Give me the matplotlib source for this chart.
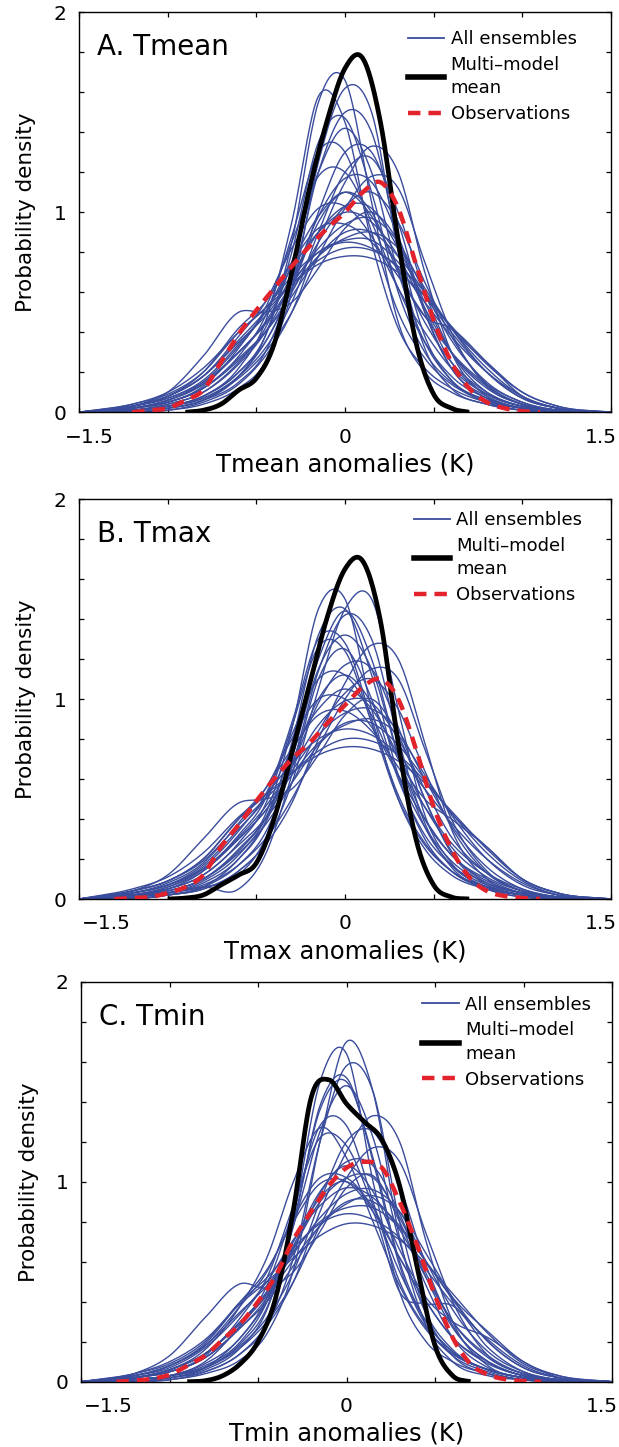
"""Probability density of temperature anomalies: ensembles vs multi-model mean vs observations."""
import matplotlib
matplotlib.use("Agg")
import matplotlib.pyplot as plt
from matplotlib.lines import Line2D
import numpy as np

PANEL_TITLES=["A. Tmean","B. Tmax","C. Tmin"]
X_LABELS=["Tmean anomalies (K)","Tmax anomalies (K)","Tmin anomalies (K)"]
X_TICKS=[-1.5,-1.0,-0.5,0.0,0.5,1.0,1.5]
X_TICK_LABELS={-1.5:"\u22121.5",0.0:"0",1.5:"1.5"}
Y_TICKS=[0.0,0.2,0.4,0.6,0.8,1.0,1.2,1.4,1.6,1.8,2.0]
Y_TICK_LABELS=["0","","","","","1","","","","","2"]

ENS_X=[-1.5,-1.2,-1.0,-0.8,-0.6,-0.45,-0.3,-0.15,0.0,0.15,0.3,0.45,0.6,0.8,1.0,1.2,1.5]

ENS_TMEAN=[
    [0.01,0.03,0.08,0.22,0.45,0.95,1.58,1.45,0.85,0.42,0.22,0.12,0.05,0.02,0.0],
    [0.0,0.02,0.06,0.18,0.38,0.85,1.55,1.66,1.05,0.45,0.2,0.1,0.04,0.01,0.0],
    [0.0,0.01,0.04,0.12,0.25,0.6,1.25,1.62,1.5,0.8,0.32,0.12,0.04,0.01,0.0],
    [0.0,0.02,0.06,0.15,0.3,0.65,1.2,1.5,1.4,0.85,0.38,0.16,0.05,0.01,0.0],
    [0.01,0.03,0.08,0.2,0.38,0.8,1.35,1.47,1.1,0.6,0.3,0.15,0.06,0.02,0.0],
    [0.01,0.04,0.1,0.25,0.42,0.75,1.2,1.42,1.2,0.7,0.35,0.16,0.06,0.02,0.0],
    [0.0,0.01,0.05,0.14,0.28,0.5,0.85,1.15,1.33,1.2,0.7,0.3,0.08,0.02,0.0],
    [0.01,0.03,0.08,0.2,0.35,0.62,1.0,1.3,1.3,0.95,0.5,0.22,0.08,0.02,0.0],
    [0.01,0.03,0.07,0.18,0.32,0.55,0.9,1.2,1.27,1.0,0.6,0.3,0.1,0.03,0.01],
    [0.02,0.05,0.13,0.32,0.52,0.85,1.18,1.2,0.95,0.62,0.35,0.18,0.07,0.02,0.0],
    [0.01,0.04,0.1,0.24,0.4,0.65,0.98,1.17,1.15,0.88,0.52,0.25,0.09,0.03,0.01],
    [0.02,0.05,0.12,0.26,0.4,0.6,0.85,1.03,1.1,0.95,0.65,0.38,0.14,0.04,0.01],
    [0.02,0.06,0.15,0.33,0.5,0.75,0.98,1.1,0.98,0.72,0.45,0.25,0.1,0.03,0.01],
    [0.02,0.06,0.14,0.3,0.45,0.68,0.9,1.03,1.02,0.82,0.55,0.3,0.12,0.04,0.01],
    [0.03,0.07,0.16,0.34,0.5,0.72,0.9,1.0,0.95,0.78,0.52,0.3,0.13,0.04,0.01],
    [0.03,0.08,0.2,0.42,0.55,0.75,0.92,0.94,0.85,0.68,0.48,0.3,0.14,0.05,0.01],
    [0.03,0.07,0.15,0.3,0.44,0.62,0.78,0.87,0.9,0.82,0.62,0.42,0.2,0.07,0.02],
    [0.03,0.08,0.18,0.35,0.48,0.65,0.8,0.86,0.86,0.75,0.58,0.4,0.2,0.07,0.02],
    [0.04,0.09,0.2,0.4,0.52,0.68,0.8,0.85,0.82,0.72,0.55,0.38,0.2,0.08,0.02],
    [0.03,0.08,0.18,0.36,0.5,0.64,0.76,0.82,0.81,0.73,0.6,0.42,0.22,0.08,0.02],
    [0.04,0.1,0.22,0.4,0.52,0.64,0.74,0.78,0.77,0.7,0.58,0.43,0.24,0.1,0.03],
    [0.03,0.1,0.28,0.5,0.5,0.55,0.72,0.92,1.0,0.85,0.5,0.22,0.07,0.02,0.0],
    [0.0,0.02,0.06,0.18,0.35,0.62,0.95,1.1,1.0,0.7,0.48,0.42,0.25,0.08,0.02],
    [0.02,0.05,0.12,0.28,0.48,0.88,1.3,1.3,0.9,0.5,0.27,0.14,0.06,0.02,0.0],
    [0.01,0.03,0.07,0.17,0.3,0.5,0.78,1.02,1.18,1.12,0.75,0.4,0.13,0.04,0.01],
    [0.02,0.06,0.14,0.3,0.44,0.64,0.82,0.94,0.97,0.85,0.6,0.36,0.15,0.05,0.01],
    [0.03,0.08,0.18,0.38,0.55,0.82,1.02,1.03,0.88,0.62,0.4,0.22,0.09,0.03,0.01],
    [0.02,0.05,0.12,0.27,0.4,0.58,0.78,0.9,0.9,0.78,0.6,0.42,0.25,0.1,0.03],
]
ENS_TMAX=[
    [0.02,0.04,0.1,0.25,0.42,0.85,1.45,1.5,0.95,0.5,0.25,0.12,0.05,0.02,0.0],
    [0.0,0.02,0.05,0.14,0.28,0.58,1.05,1.45,1.5,0.95,0.42,0.18,0.06,0.02,0.0],
    [0.01,0.03,0.08,0.2,0.38,0.78,1.32,1.45,1.12,0.62,0.3,0.14,0.05,0.01,0.0],
    [0.01,0.03,0.09,0.22,0.4,0.75,1.2,1.44,1.2,0.72,0.36,0.17,0.06,0.02,0.0],
    [0.0,0.02,0.06,0.17,0.33,0.66,1.14,1.42,1.3,0.8,0.38,0.16,0.05,0.01,0.0],
    [0.02,0.05,0.14,0.32,0.5,0.88,1.3,1.28,0.9,0.52,0.28,0.14,0.06,0.02,0.0],
    [0.0,0.02,0.05,0.14,0.27,0.48,0.8,1.08,1.27,1.2,0.78,0.35,0.1,0.03,0.01],
    [0.01,0.04,0.1,0.24,0.4,0.66,0.98,1.17,1.15,0.86,0.5,0.24,0.08,0.03,0.01],
    [0.03,0.07,0.16,0.34,0.52,0.82,1.1,1.12,0.92,0.62,0.36,0.19,0.08,0.03,0.01],
    [0.01,0.04,0.1,0.23,0.37,0.58,0.84,1.03,1.1,0.95,0.64,0.36,0.13,0.04,0.01],
    [0.03,0.07,0.17,0.35,0.5,0.74,0.95,1.05,0.95,0.72,0.46,0.26,0.11,0.04,0.01],
    [0.02,0.06,0.15,0.31,0.46,0.66,0.87,0.99,0.98,0.8,0.55,0.31,0.13,0.04,0.01],
    [0.04,0.09,0.2,0.4,0.55,0.75,0.92,0.94,0.84,0.66,0.46,0.28,0.13,0.05,0.01],
    [0.03,0.07,0.15,0.3,0.44,0.62,0.78,0.87,0.9,0.82,0.62,0.42,0.2,0.07,0.02],
    [0.04,0.09,0.2,0.4,0.52,0.68,0.8,0.85,0.82,0.72,0.55,0.38,0.2,0.08,0.02],
    [0.04,0.09,0.19,0.37,0.5,0.63,0.74,0.8,0.79,0.72,0.59,0.43,0.23,0.09,0.02],
    [0.05,0.11,0.23,0.41,0.52,0.63,0.72,0.76,0.75,0.69,0.58,0.44,0.25,0.1,0.03],
    [0.04,0.12,0.3,0.48,0.5,0.55,0.72,0.92,1.0,0.82,0.5,0.23,0.07,0.02,0.0],
    [0.01,0.03,0.06,0.12,0.3,0.7,1.15,1.32,1.15,0.72,0.4,0.22,0.1,0.03,0.01],
    [0.0,0.02,0.06,0.2,0.38,0.68,1.0,1.12,0.98,0.7,0.5,0.4,0.26,0.1,0.03],
    [0.02,0.03,0.06,0.05,0.22,0.62,1.1,1.25,1.0,0.6,0.32,0.17,0.07,0.02,0.0],
    [0.02,0.05,0.12,0.28,0.47,0.86,1.26,1.24,0.88,0.5,0.27,0.14,0.06,0.02,0.0],
    [0.01,0.03,0.07,0.17,0.3,0.5,0.76,1.0,1.15,1.1,0.75,0.4,0.14,0.04,0.01],
    [0.02,0.06,0.14,0.3,0.44,0.64,0.82,0.93,0.95,0.84,0.6,0.37,0.16,0.05,0.01],
    [0.03,0.08,0.18,0.38,0.55,0.8,1.0,1.0,0.86,0.62,0.4,0.22,0.09,0.03,0.01],
    [0.02,0.05,0.12,0.27,0.4,0.58,0.77,0.88,0.88,0.77,0.6,0.43,0.26,0.1,0.03],
]
ENS_TMIN=[
    [0.0,0.01,0.04,0.11,0.24,0.56,1.2,1.7,1.45,0.72,0.28,0.1,0.03,0.01,0.0],
    [0.0,0.02,0.06,0.17,0.36,0.82,1.5,1.64,1.0,0.45,0.2,0.1,0.04,0.01,0.0],
    [0.0,0.02,0.05,0.14,0.28,0.62,1.2,1.58,1.45,0.8,0.34,0.13,0.04,0.01,0.0],
    [0.01,0.03,0.07,0.19,0.37,0.78,1.38,1.52,1.1,0.58,0.28,0.13,0.05,0.01,0.0],
    [0.01,0.03,0.08,0.2,0.4,0.8,1.36,1.5,1.12,0.6,0.3,0.15,0.06,0.02,0.0],
    [0.01,0.03,0.09,0.22,0.42,0.78,1.25,1.48,1.22,0.7,0.34,0.16,0.06,0.02,0.0],
    [0.0,0.01,0.05,0.14,0.28,0.5,0.85,1.15,1.33,1.2,0.7,0.3,0.08,0.02,0.0],
    [0.01,0.03,0.07,0.18,0.32,0.55,0.9,1.2,1.25,0.98,0.58,0.28,0.1,0.03,0.01],
    [0.02,0.06,0.16,0.38,0.62,1.0,1.27,1.12,0.8,0.48,0.26,0.14,0.06,0.02,0.0],
    [0.02,0.05,0.13,0.32,0.52,0.88,1.22,1.18,0.88,0.55,0.3,0.15,0.06,0.02,0.0],
    [0.02,0.05,0.12,0.27,0.42,0.66,0.94,1.1,1.08,0.84,0.52,0.27,0.1,0.03,0.01],
    [0.03,0.08,0.19,0.4,0.56,0.8,0.99,1.0,0.85,0.62,0.4,0.22,0.1,0.03,0.01],
    [0.02,0.06,0.14,0.3,0.45,0.67,0.9,1.02,1.02,0.82,0.54,0.3,0.12,0.04,0.01],
    [0.03,0.07,0.17,0.34,0.5,0.71,0.88,0.97,0.92,0.76,0.52,0.3,0.13,0.04,0.01],
    [0.02,0.06,0.14,0.29,0.43,0.61,0.78,0.89,0.93,0.85,0.64,0.42,0.2,0.07,0.02],
    [0.03,0.08,0.18,0.35,0.48,0.65,0.8,0.87,0.87,0.77,0.6,0.41,0.2,0.07,0.02],
    [0.04,0.09,0.2,0.4,0.52,0.67,0.79,0.84,0.81,0.72,0.56,0.39,0.21,0.08,0.02],
    [0.04,0.1,0.21,0.39,0.5,0.62,0.73,0.79,0.78,0.71,0.59,0.44,0.24,0.09,0.03],
    [0.04,0.13,0.32,0.49,0.47,0.55,0.75,0.97,1.03,0.8,0.48,0.22,0.07,0.02,0.0],
    [0.0,0.02,0.07,0.22,0.4,0.68,0.92,1.0,0.85,0.45,0.39,0.38,0.17,0.05,0.01],
    [0.01,0.03,0.1,0.28,0.45,0.7,0.95,1.08,0.95,0.66,0.42,0.3,0.22,0.1,0.02],
    [0.02,0.05,0.12,0.28,0.48,0.86,1.28,1.28,0.9,0.5,0.27,0.14,0.06,0.02,0.0],
    [0.01,0.03,0.07,0.17,0.3,0.5,0.78,1.02,1.17,1.1,0.74,0.4,0.13,0.04,0.01],
    [0.02,0.06,0.14,0.3,0.44,0.64,0.82,0.94,0.96,0.85,0.6,0.36,0.15,0.05,0.01],
    [0.03,0.08,0.18,0.38,0.55,0.82,1.02,1.02,0.87,0.62,0.4,0.22,0.09,0.03,0.01],
    [0.02,0.05,0.12,0.27,0.4,0.58,0.78,0.9,0.9,0.78,0.6,0.42,0.25,0.1,0.03],
]

# multi-model mean and observations, read every 0.1 K
MEAN_X_TMEAN=[-0.9,-0.8,-0.7,-0.6,-0.5,-0.4,-0.3,-0.2,-0.1,0.0,0.1,0.2,0.3,0.4,0.5,0.6,0.7]
MEAN_TMEAN=[0.0,0.01,0.04,0.11,0.17,0.34,0.7,1.12,1.46,1.72,1.77,1.45,0.86,0.35,0.09,0.02,0.0]
MEAN_X_TMAX=[-1.0,-0.9,-0.8,-0.7,-0.6,-0.5,-0.4,-0.3,-0.2,-0.1,0.0,0.1,0.2,0.3,0.4,0.5,0.6,0.7]
MEAN_TMAX=[0.0,0.005,0.02,0.07,0.12,0.18,0.4,0.73,1.07,1.41,1.65,1.69,1.39,0.78,0.3,0.07,0.01,0.0]
MEAN_X_TMIN=[-0.9,-0.8,-0.7,-0.6,-0.5,-0.4,-0.3,-0.2,-0.1,0.0,0.1,0.2,0.3,0.4,0.5,0.6,0.7]
MEAN_TMIN=[0.0,0.005,0.03,0.09,0.2,0.42,0.86,1.42,1.51,1.39,1.3,1.21,0.98,0.57,0.18,0.03,0.0]

OBS_X_TMEAN=[-1.2,-1.1,-1.0,-0.9,-0.8,-0.7,-0.6,-0.5,-0.4,-0.3,-0.2,-0.1,0.0,0.1,0.2,0.3,0.4,0.5,0.6,0.7,0.8,0.9,1.0,1.1]
OBS_TMEAN=[0.0,0.01,0.02,0.06,0.11,0.25,0.39,0.51,0.62,0.73,0.83,0.92,1.0,1.1,1.15,1.02,0.74,0.46,0.25,0.12,0.05,0.02,0.005,0.0]
OBS_X_TMAX=[-1.3,-1.2,-1.1,-1.0,-0.9,-0.8,-0.7,-0.6,-0.5,-0.4,-0.3,-0.2,-0.1,0.0,0.1,0.2,0.3,0.4,0.5,0.6,0.7,0.8,0.9,1.0,1.1]
OBS_TMAX=[0.0,0.005,0.01,0.03,0.06,0.12,0.26,0.37,0.49,0.6,0.7,0.78,0.88,0.97,1.06,1.1,1.0,0.75,0.46,0.25,0.11,0.04,0.015,0.005,0.0]
OBS_X_TMIN=[-1.3,-1.2,-1.1,-1.0,-0.9,-0.8,-0.7,-0.6,-0.5,-0.4,-0.3,-0.2,-0.1,0.0,0.1,0.2,0.3,0.4,0.5,0.6,0.7,0.8,0.9,1.0,1.1]
OBS_TMIN=[0.0,0.005,0.015,0.035,0.08,0.13,0.21,0.29,0.4,0.53,0.71,0.85,0.98,1.07,1.1,1.07,0.9,0.68,0.43,0.22,0.09,0.035,0.012,0.003,0.0]

BLUE="#3a4c9c"
RED="#e3232c"


def smooth(xk,yk,n=400):
    """Cubic Hermite curve through the read-off knots (drawing only)."""
    xk=np.asarray(xk,dtype=float); yk=np.asarray(yk,dtype=float)
    m=np.gradient(yk,xk)
    xs=np.linspace(xk[0],xk[-1],n)
    i=np.clip(np.searchsorted(xk,xs)-1,0,len(xk)-2)
    h=xk[i+1]-xk[i]; t=(xs-xk[i])/h
    ys=((2*t**3-3*t**2+1)*yk[i]+(t**3-2*t**2+t)*h*m[i]
        +(-2*t**3+3*t**2)*yk[i+1]+(t**3-t**2)*h*m[i+1])
    return xs,np.clip(ys,0,None)


def draw_panel(ax,title,xlabel,ensembles,mean_x,mean,obs_x,obs,legend_xy,edge_shift):
    for row in ensembles:
        ax.plot(*smooth(ENS_X,[0.0,*row,0.0]),color=BLUE,lw=1.0,zorder=2)
    ax.plot(*smooth(mean_x,mean),color="black",lw=3.4,zorder=3,solid_capstyle="butt")
    ax.plot(*smooth(obs_x,obs),color=RED,lw=3.2,dashes=(2.8,1.8),zorder=4)
    ax.set_xlim(-1.5,1.5); ax.set_ylim(0,2)
    ax.set_xticks(X_TICKS); ax.set_xticklabels([""]*len(X_TICKS))
    ax.set_yticks(Y_TICKS); ax.set_yticklabels(Y_TICK_LABELS)
    ax.tick_params(direction="in",top=True,right=True,length=3.6,width=0.9,labelsize=14.5)
    ax.tick_params(axis="y",pad=9)
    # the outer x tick labels sit inside the tick span in the original
    for value,label in X_TICK_LABELS.items():
        dx=edge_shift if value<0 else (-7.2 if value>0 else 0)
        ax.annotate(label,xy=(value,0),xycoords=("data","axes fraction"),xytext=(dx,-11),
                    textcoords="offset points",ha="center",va="top",fontsize=14.5)
    for spine in ax.spines.values(): spine.set_linewidth(1.0)
    ax.set_xlabel(xlabel,fontsize=17.5)
    ax.xaxis.set_label_coords(0.5,-0.1)
    ax.set_ylabel("Probability density",fontsize=15.5)
    ax.yaxis.set_label_coords(-0.08,0.5)
    ax.text(0.034,0.8925,title,transform=ax.transAxes,fontsize=20,va="baseline",ha="left")
    handles=[
        Line2D([],[],color=BLUE,lw=1.3),
        Line2D([],[],color="black",lw=4.0),
        Line2D([],[],color=RED,lw=3.2,dashes=(2.8,1.8)),
    ]
    labels=["All ensembles","Multi\u2013model\nmean","Observations"]
    leg=ax.legend(handles,labels,loc="upper left",bbox_to_anchor=legend_xy,frameon=False,
                  fontsize=13,handlelength=2.0,handletextpad=0.37,labelspacing=0.42,borderpad=0,
                  borderaxespad=0)
    for text in leg.get_texts(): text.set_linespacing(1.4)


def main():
    fig=plt.figure(figsize=(6.19,14.47),dpi=100)
    boxes=[(0.1276,0.7151,0.8595,0.2764),(0.1276,0.3787,0.8595,0.2764),(0.1309,0.0451,0.8578,0.2764)]
    legend_xy=[(0.618,0.955),(0.629,0.97),(0.643,0.965)]
    edge_shift=[7.2,19.4,19.4]
    ensembles=[ENS_TMEAN,ENS_TMAX,ENS_TMIN]
    means=[(MEAN_X_TMEAN,MEAN_TMEAN),(MEAN_X_TMAX,MEAN_TMAX),(MEAN_X_TMIN,MEAN_TMIN)]
    obs=[(OBS_X_TMEAN,OBS_TMEAN),(OBS_X_TMAX,OBS_TMAX),(OBS_X_TMIN,OBS_TMIN)]
    for k in range(3):
        ax=fig.add_axes(boxes[k])
        draw_panel(ax,PANEL_TITLES[k],X_LABELS[k],ensembles[k],*means[k],*obs[k],
                   legend_xy[k],edge_shift[k])
    fig.savefig("out.png",dpi=100)
    plt.close(fig)


if __name__=="__main__": main()
